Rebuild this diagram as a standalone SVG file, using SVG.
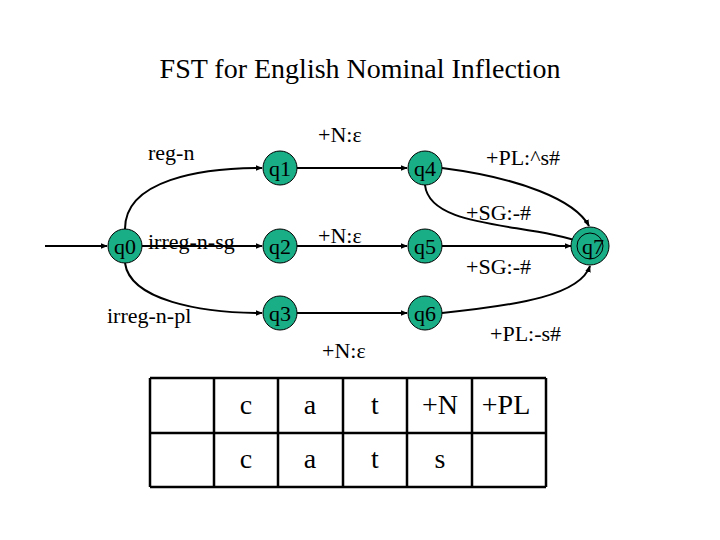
<svg xmlns="http://www.w3.org/2000/svg" width="720" height="540" viewBox="0 0 720 540">
<defs>
<marker id="ah" viewBox="0 0 10 10" refX="9" refY="5" markerWidth="7" markerHeight="7" orient="auto" markerUnits="userSpaceOnUse"><path d="M0,1 L10,5 L0,9 z" fill="#000"/></marker>
<style>
text{font-family:"Liberation Serif",serif;fill:#000}
.st{fill:#1aae86;stroke:#000;stroke-width:1}
.lb{font-size:22px}
.sl{font-size:22px;text-anchor:middle}
.tb{font-size:28px;text-anchor:middle}
.e{fill:none;stroke:#000;stroke-width:2;marker-end:url(#ah)}
.g{fill:none;stroke:#000;stroke-width:2.5}
</style>
</defs>
<rect width="720" height="540" fill="#fff"/>
<text x="360" y="78" font-size="28" text-anchor="middle">FST for English Nominal Inflection</text>
<g id="connectors">
<path class="e" d="M45,246 L107,246"/>
<path class="e" d="M125,229 C125,180 200,168 262,168"/>
<path class="e" d="M142,246 L262,246"/>
<path class="e" d="M125,263 C130,300 200,313 262,313"/>
<path class="e" d="M297,168 L407,168"/>
<path class="e" d="M297,246 L407,246"/>
<path class="e" d="M297,313 L407,313"/>
<path class="e" d="M442,168 C520,178 575,200 589,226"/>
<path class="e" d="M425,185 C430,230 530,222 586,244"/>
<path class="e" d="M442,246 L571,246"/>
<path class="e" d="M442,313 C520,305 580,295 590,266"/>
</g>
<g id="q0"><circle class="st" cx="125" cy="246" r="17"/><text class="sl" x="125" y="254">q0</text></g>
<g id="q1"><circle class="st" cx="280" cy="168" r="17"/><text class="sl" x="280" y="176">q1</text></g>
<g id="q2"><circle class="st" cx="280" cy="246" r="17"/><text class="sl" x="280" y="254">q2</text></g>
<g id="q3"><circle class="st" cx="280" cy="313" r="17"/><text class="sl" x="280" y="321">q3</text></g>
<g id="q4"><circle class="st" cx="425" cy="168" r="17"/><text class="sl" x="425" y="176">q4</text></g>
<g id="q5"><circle class="st" cx="425" cy="246" r="17"/><text class="sl" x="425" y="254">q5</text></g>
<g id="q6"><circle class="st" cx="425" cy="313" r="17"/><text class="sl" x="425" y="321">q6</text></g>
<g id="q7"><circle class="st" cx="590" cy="246" r="19"/><circle class="st" cx="590" cy="246" r="13"/><text class="sl" x="593" y="254">q7</text></g>
<g id="labels">
<text class="lb" x="148" y="160">reg-n</text>
<text class="lb" x="318" y="142">+N:ε</text>
<text class="lb" x="486" y="165">+PL:^s#</text>
<text class="lb" x="466" y="220">+SG:-#</text>
<text class="lb" x="148" y="249">irreg-n-sg</text>
<text class="lb" x="318" y="243">+N:ε</text>
<text class="lb" x="466" y="274">+SG:-#</text>
<text class="lb" x="107" y="323">irreg-n-pl</text>
<text class="lb" x="322" y="358">+N:ε</text>
<text class="lb" x="490" y="341">+PL:-s#</text>
</g>
<g id="table">
<path class="g" d="M150,378 H546 M150,433 H546 M150,487 H546 M150,378 V487 M214,378 V487 M278,378 V487 M343,378 V487 M407,378 V487 M472,378 V487 M546,378 V487"/>
<text class="tb" x="246" y="414">c</text><text class="tb" x="310" y="414">a</text><text class="tb" x="375" y="414">t</text>
<text class="tb" x="440" y="414">+N</text><text class="tb" x="506" y="414">+PL</text>
<text class="tb" x="246" y="468">c</text><text class="tb" x="310" y="468">a</text><text class="tb" x="375" y="468">t</text>
<text class="tb" x="440" y="468">s</text>
</g>
</svg>
